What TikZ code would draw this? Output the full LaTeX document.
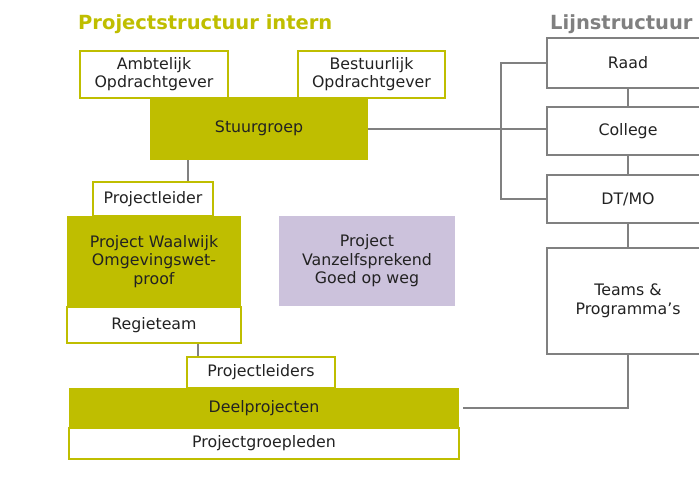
\documentclass[tikz,border=0pt]{standalone}
\usepackage{fontspec}
\setmainfont{DejaVu Sans}
\usepackage{xcolor}
\usepackage{tikz}
\usetikzlibrary{positioning}

\definecolor{olijf}{RGB}{191,190,0}
\definecolor{lila}{RGB}{204,194,220}
\definecolor{lijngrijs}{RGB}{128,128,128}
\definecolor{tekst}{RGB}{34,34,34}

\begin{document}
\begin{tikzpicture}[x=1pt,y=-1pt]

        \tikzstyle{blok}=[minimum width=#1,inner sep=0pt,align=center,text=tekst,
            font=\fontsize{15.8}{18.5}\selectfont]
        \tikzstyle{wit}=[draw=olijf,line width=2pt,fill=white]
        \tikzstyle{vol}=[fill=olijf]
        \tikzstyle{lijnbox}=[draw=lijngrijs,line width=2pt,fill=white]
        \tikzstyle{lijn}=[draw=lijngrijs,line width=2pt]
        \tikzstyle{kop}=[anchor=base west,inner sep=0pt,font=\fontsize{19.5}{22}\bfseries\selectfont]

        \useasboundingbox (0,0) rectangle (699,479);
        \clip (0,0) rectangle (699,479);

        %% Koppen
        \node[kop,text=olijf] (kopintern) at (78,29) {Projectstructuur intern};
        \node[kop,text=lijngrijs] (koplijn) at (550,29) {Lijnstructuur};

        %% Projectstructuur
        \node[blok=218pt,vol,minimum height=63pt] (stuur) at (259,128.5) {Stuurgroep};
        \node[blok=148pt,wit,minimum height=47pt] (ambt) at (154,74) {Ambtelijk\\Opdrachtgever};
        \node[blok=147pt,wit,minimum height=47pt] (best) at (371.5,74) {Bestuurlijk\\Opdrachtgever};

        \node[blok=120pt,wit,minimum height=34pt] (pl) at (153,199) {Projectleider};
        \node[blok=174pt,vol,minimum height=91pt] (waal) at (154,261.5) {Project Waalwijk\\Omgevingswet-\\proof};
        \node[blok=174pt,wit,minimum height=36pt] (regie) at (154,325) {Regieteam};
        \node[blok=176pt,fill=lila,minimum height=90pt] (vanz) at (367,261) {Project\\Vanzelfsprekend\\Goed op weg};

        \node[blok=148pt,wit,minimum height=31pt] (pls) at (261,372.5) {Projectleiders};
        \node[blok=390pt,vol,minimum height=40pt] (deel) at (264,408) {Deelprojecten};
        \node[blok=390pt,wit,minimum height=31pt] (groep) at (264,443.5) {Projectgroepleden};

        %% Lijnstructuur
        \node[blok=162pt,lijnbox,minimum height=50pt] (raad) at (628,63) {Raad};
        \node[blok=162pt,lijnbox,minimum height=48pt] (college) at (628,131) {College};
        \node[blok=162pt,lijnbox,minimum height=48pt] (dtmo) at (628,199) {DT/MO};
        \node[blok=162pt,lijnbox,minimum height=106pt] (teams) at (628,301) {Teams \&\\Programma’s};

        \coordinate (knik) at (501,0);

        %% Verbindingen
        \draw[lijn] ([xshift=38pt]stuur.south west) -- ([xshift=38pt]stuur.south west |- pl.north);
        \draw[lijn] ([xshift=12pt]pls.north west |- regie.south) -- ([xshift=12pt]pls.north west);
        \draw[lijn] (stuur.east) -- (stuur.east -| college.west);
        \draw[lijn] (raad.west) -| (knik |- dtmo.west) -- (dtmo.west);
        \draw[lijn] (raad.south) -- (college.north);
        \draw[lijn] (college.south) -- (dtmo.north);
        \draw[lijn] (dtmo.south) -- (teams.north);
        \draw[lijn] ([xshift=4pt]deel.east) -| (teams.south);

    \end{tikzpicture}
\end{document}
